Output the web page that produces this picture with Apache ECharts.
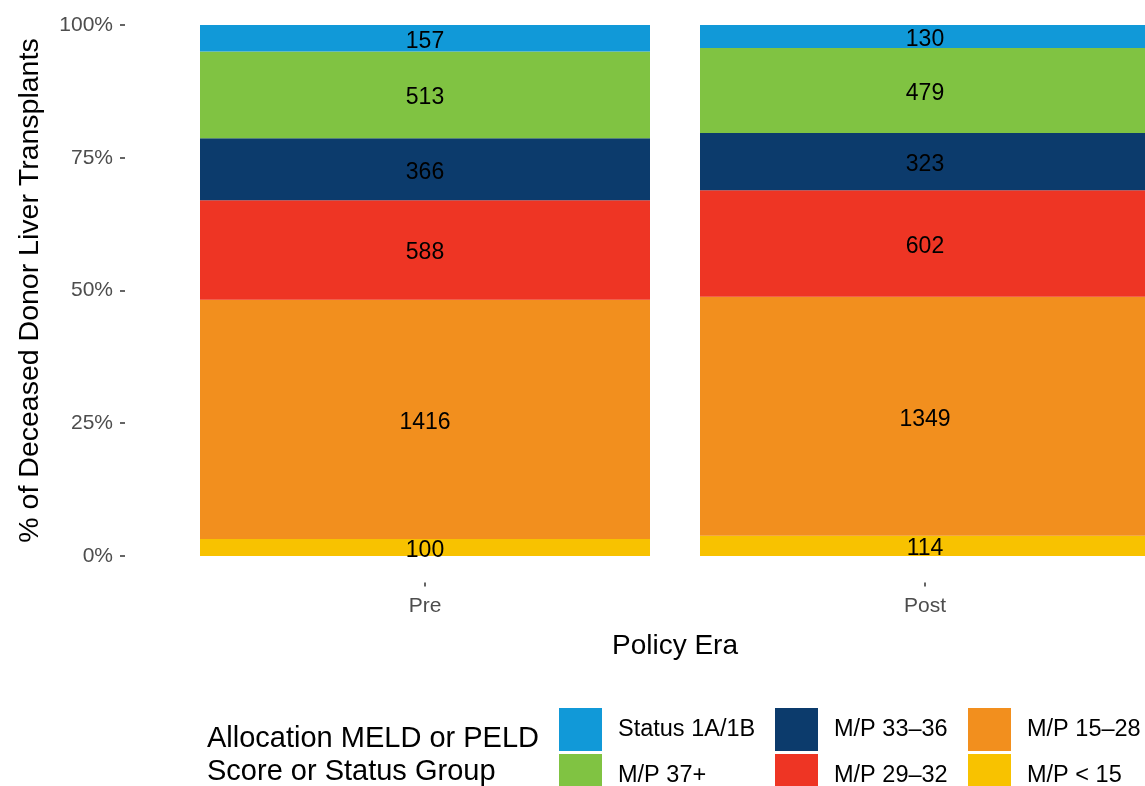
<!DOCTYPE html>
<html>
<head>
<meta charset="utf-8">
<script src="https://cdn.jsdelivr.net/npm/echarts@6/dist/echarts.min.js"></script>
<style>
  html, body { margin: 0; padding: 0; background: #fff; }
  #chart { width: 1145px; height: 786px; }
</style>
</head>
<body>
<div id="chart"></div>
<script>
// policy eras on the x axis
const eras = ['Pre', 'Post'];

// groups, bottom of the stack to the top
const groups = ['M/P < 15', 'M/P 15\u201328', 'M/P 29\u201332', 'M/P 33\u201336', 'M/P 37+', 'Status 1A/1B'];
const groupColors = ['#f8c200', '#f28f1e', '#ee3524', '#0c3b6c', '#80c342', '#1199d8'];

// transplant counts per group, [Pre, Post]
const lt15 = [100, 114];
const m15to28 = [1416, 1349];
const m29to32 = [588, 602];
const m33to36 = [366, 323];
const m37plus = [513, 479];
const status1 = [157, 130];

const counts = [lt15, m15to28, m29to32, m33to36, m37plus, status1];
const totals = eras.map((_, i) => counts.reduce((s, arr) => s + arr[i], 0));

const yTicks = [0, 25, 50, 75, 100];

const FONT = 'Liberation Sans, Arial, sans-serif';
const chart = echarts.init(document.getElementById('chart'));

const series = groups.map((name, g) => ({
  name: name,
  type: 'bar',
  stack: 'all',
  barWidth: 450,
  itemStyle: { color: groupColors[g] },
  label: {
    show: true,
    position: 'inside',
    offset: [0, 3],
    color: '#000',
    fontSize: 23,
    fontFamily: FONT,
    formatter: p => p.data.count
  },
  data: counts[g].map((c, i) => ({ value: c / totals[i] * 100, count: c }))
}));

const legendBase = {
  orient: 'vertical',
  itemWidth: 43,
  itemHeight: 43,
  itemGap: 3,
  icon: 'rect',
  top: 708,
  height: 120,
  padding: 0,
  selectedMode: false,
  textStyle: { color: '#000', fontSize: 23.5, fontFamily: FONT, padding: [0, 0, 0, 11] }
};

chart.setOption({
  animation: false,
  textStyle: { fontFamily: FONT },
  title: {
    text: 'Allocation MELD or PELD\nScore or Status Group',
    left: 207,
    top: 722,
    padding: 0,
    textStyle: { fontSize: 29, fontWeight: 'normal', color: '#000', lineHeight: 33, fontFamily: FONT }
  },
  legend: [
    Object.assign({ left: 559, data: ['Status 1A/1B', 'M/P 37+'] }, legendBase),
    Object.assign({ left: 775, data: ['M/P 33\u201336', 'M/P 29\u201332'] }, legendBase),
    Object.assign({ left: 968, data: ['M/P 15\u201328', 'M/P < 15'] }, legendBase)
  ],
  grid: {
    left: 175,
    right: -30,
    top: -1.5,
    bottom: 203.5,
    outerBoundsMode: 'none'
  },
  xAxis: {
    type: 'category',
    data: eras,
    axisLine: { show: false, onZero: false },
    axisTick: { show: true, alignWithLabel: true, length: 4, lineStyle: { color: '#333', width: 1.5 } },
    axisLabel: { color: '#4d4d4d', fontSize: 21, margin: 13, fontFamily: FONT },
    name: 'Policy Era',
    nameLocation: 'middle',
    nameGap: 50,
    nameTextStyle: { color: '#000', fontSize: 28, fontFamily: FONT }
  },
  yAxis: {
    type: 'value',
    min: -5,
    max: 105,
    offset: 50,
    axisLine: { show: false },
    axisTick: { show: true, length: 5, customValues: yTicks, lineStyle: { color: '#333', width: 1.5 } },
    splitLine: { show: false },
    axisLabel: { color: '#4d4d4d', fontSize: 21, margin: 12, customValues: yTicks, formatter: '{value}%', fontFamily: FONT },
    name: '% of Deceased Donor Liver Transplants',
    nameLocation: 'middle',
    nameGap: 80,
    nameTextStyle: { color: '#000', fontSize: 28.5, fontFamily: FONT }
  },
  series: series
});
</script>
</body>
</html>
